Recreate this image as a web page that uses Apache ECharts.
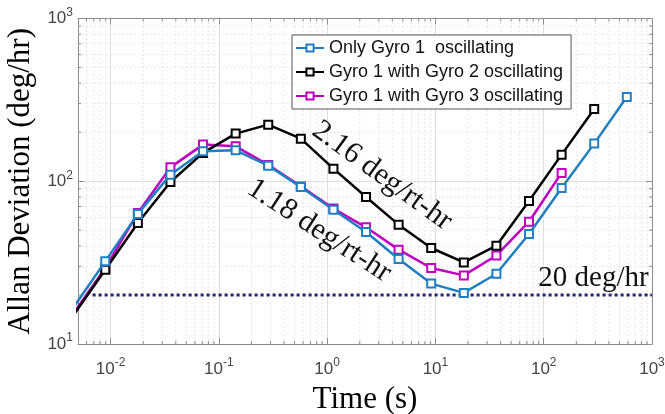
<!DOCTYPE html>
<html><head><meta charset="utf-8">
<script src="https://cdn.jsdelivr.net/npm/echarts@6/dist/echarts.min.js"></script>
<style>html,body{margin:0;padding:0;background:#fff}#c{width:665px;height:414px}</style>
</head><body><div id="c"></div>
<script>
// Averaging time tau (s)
const tau = [0.00446, 0.00893, 0.01786, 0.0357, 0.0714, 0.1429, 0.2857, 0.5714, 1.143, 2.286, 4.571, 9.143, 18.29, 36.57, 73.14, 146.3, 292.6, 585.1];
// Allan deviation (deg/hr)
const gyro1Only  = [16.5, 32.2, 63.0, 109.8, 152.7, 154.9, 124.7, 92.2, 66.9, 48.8, 33.3, 23.5, 20.6, 27.0, 47.4, 90.9, 170.3, 329.6];
const gyro1With2 = [14.8, 28.6, 55.4, 99.0, 149.3, 196.2, 222.8, 182.7, 119.5, 80.1, 54.1, 38.9, 31.7, 40.2, 75.7, 145.7, 278.3];
const gyro1With3 = [15.2, 29.3, 63.9, 121.7, 167.9, 163.9, 126.0, 93.0, 67.9, 52.1, 38.0, 29.3, 26.4, 35.0, 56.4, 112.5];
const seriesNames = ['Only Gyro 1  oscillating', 'Gyro 1 with Gyro 2 oscillating', 'Gyro 1 with Gyro 3 oscillating'];
const refLevel = [[0.00682, 20], [1000, 20]];
const refLabel = '20 deg/hr';
const slopeLabels = ['2.16 deg/rt-hr', '1.18 deg/rt-hr'];
const xRange = [0.005, 1000];
const yRange = [10, 1000];

// minor grid positions (2..9 x 10^k) for log axes
function minorVals(lo, hi) {
  const out = [];
  for (let k = Math.floor(Math.log10(lo)); k <= Math.ceil(Math.log10(hi)); k++) {
    for (let m = 2; m <= 9; m++) {
      const v = m * Math.pow(10, k);
      if (v > lo * 1.0001 && v < hi * 0.9999) out.push(v);
    }
  }
  return out;
}
const xMinor = minorVals(xRange[0], xRange[1]);
const yMinor = minorVals(yRange[0], yRange[1]);

function pair(xs, ys) { return ys.map((v, i) => [xs[i], v]); }
function powLabel(v) {
  const e = Math.log10(v);
  if (Math.abs(e - Math.round(e)) > 1e-6) return '';
  return '{b|10}{s|' + Math.round(e) + '}';
}
const rich = {
  b: {fontSize: 17, fontFamily: 'Liberation Sans', color: '#444'},
  s: {fontSize: 12, fontFamily: 'Liberation Sans', color: '#444', padding: [0, 0, 12, 0]}
};
const serif = 'Liberation Serif';
const boxColor = '#8c8c8c';
const gridMajor = '#dedede';
const gridMinor = '#e6e6e6';

const chart = echarts.init(document.getElementById('c'));
const lineCommon = {
  type: 'line', symbol: 'emptyRect', symbolSize: 8, clip: true,
  lineStyle: {width: 2.5}, itemStyle: {borderWidth: 2}
};
chart.setOption({
  animation: false,
  backgroundColor: '#fff',
  grid: {left: 78, top: 18.5, right: 13, bottom: 70, containLabel: false, outerBoundsMode: 'none'},
  legend: {
    data: seriesNames, orient: 'vertical', left: 292, top: 35,
    backgroundColor: '#fff', borderColor: '#555', borderWidth: 1,
    padding: [3, 8, 3, 3], itemGap: 4, itemWidth: 28, itemHeight: 9,
    textStyle: {fontSize: 18, fontFamily: 'Liberation Sans', color: '#111', lineHeight: 20}
  },
  xAxis: [{
    type: 'log', min: xRange[0], max: xRange[1], logBase: 10,
    name: 'Time (s)', nameLocation: 'middle', nameGap: 40,
    nameTextStyle: {fontSize: 31, fontFamily: serif, color: '#000'},
    axisLine: {lineStyle: {color: boxColor}},
    axisTick: {inside: true, length: 6, lineStyle: {color: boxColor}},
    axisLabel: {formatter: powLabel, rich: rich, margin: 13},
    splitLine: {show: true, lineStyle: {color: gridMajor}}
  }, {
    type: 'log', min: xRange[0], max: xRange[1], logBase: 10, position: 'top',
    axisLine: {show: true, lineStyle: {color: boxColor}},
    axisTick: {inside: true, length: 6, lineStyle: {color: boxColor}},
    axisLabel: {show: false}, splitLine: {show: false}
  }],
  yAxis: [{
    type: 'log', min: yRange[0], max: yRange[1], logBase: 10,
    name: 'Allan Deviation (deg/hr)', nameLocation: 'middle', nameGap: 42,
    nameTextStyle: {fontSize: 31, fontFamily: serif, color: '#000'},
    axisLine: {show: true, lineStyle: {color: boxColor}},
    axisTick: {show: true, inside: true, length: 6, lineStyle: {color: boxColor}},
    axisLabel: {formatter: powLabel, rich: rich, margin: 5},
    splitLine: {show: true, lineStyle: {color: gridMajor}}
  }, {
    type: 'log', min: yRange[0], max: yRange[1], logBase: 10, position: 'right',
    axisLine: {show: true, lineStyle: {color: boxColor}},
    axisTick: {show: true, inside: true, length: 6, lineStyle: {color: boxColor}},
    axisLabel: {show: false}, splitLine: {show: false}
  }],
  series: [
    {
      type: 'custom', silent: true, z: 1, data: xMinor.map(v => [v]),
      renderItem: function (params, api) {
        const v = api.value(0);
        const b = api.coord([v, yRange[0]]), t = api.coord([v, yRange[1]]);
        return {type: 'group', children: [
          {type: 'line', shape: {x1: b[0], y1: b[1], x2: t[0], y2: t[1]}, style: {stroke: gridMinor, lineWidth: 1, lineDash: [2, 2]}},
          {type: 'line', shape: {x1: b[0], y1: b[1], x2: b[0], y2: b[1] - 3}, style: {stroke: boxColor, lineWidth: 1}},
          {type: 'line', shape: {x1: t[0], y1: t[1], x2: t[0], y2: t[1] + 3}, style: {stroke: boxColor, lineWidth: 1}}
        ]};
      }
    },
    {
      type: 'custom', silent: true, z: 1, data: yMinor.map(v => [xRange[0], v]),
      renderItem: function (params, api) {
        const v = api.value(1);
        const l = api.coord([xRange[0], v]), r = api.coord([xRange[1], v]);
        return {type: 'group', children: [
          {type: 'line', shape: {x1: l[0], y1: l[1], x2: r[0], y2: r[1]}, style: {stroke: gridMinor, lineWidth: 1, lineDash: [2, 2]}},
          {type: 'line', shape: {x1: l[0], y1: l[1], x2: l[0] + 3, y2: l[1]}, style: {stroke: boxColor, lineWidth: 1}},
          {type: 'line', shape: {x1: r[0], y1: r[1], x2: r[0] - 3, y2: r[1]}, style: {stroke: boxColor, lineWidth: 1}}
        ]};
      }
    },
    {
      type: 'line', silent: true, symbol: 'none', z: 3, data: refLevel,
      lineStyle: {color: '#23217a', width: 3, type: [3, 3]},
      markPoint: {
        symbol: 'circle', symbolSize: 0, silent: true,
        data: [{coord: [288, 25.2], label: {show: true, formatter: refLabel, fontSize: 29, fontFamily: serif, color: '#111'}}]
      }
    },
    Object.assign({}, lineCommon, {
      name: seriesNames[2], z: 4, data: pair(tau, gyro1With3),
      color: '#c000c0'
    }),
    Object.assign({}, lineCommon, {
      name: seriesNames[1], z: 5, data: pair(tau, gyro1With2),
      color: '#000000',
      markPoint: {
        symbol: 'circle', symbolSize: 0, silent: true,
        data: [{coord: [3.22, 108], label: {show: true, formatter: slopeLabels[0], rotate: -36, fontSize: 30, fontFamily: serif, color: '#111'}}]
      }
    }),
    Object.assign({}, lineCommon, {
      name: seriesNames[0], z: 6, data: pair(tau, gyro1Only),
      color: '#1f7fc1',
      markPoint: {
        symbol: 'circle', symbolSize: 0, silent: true,
        data: [{coord: [0.844, 49.7], label: {show: true, formatter: slopeLabels[1], rotate: -33, fontSize: 30, fontFamily: serif, color: '#111'}}]
      }
    })
  ]
});
</script>
</body></html>
